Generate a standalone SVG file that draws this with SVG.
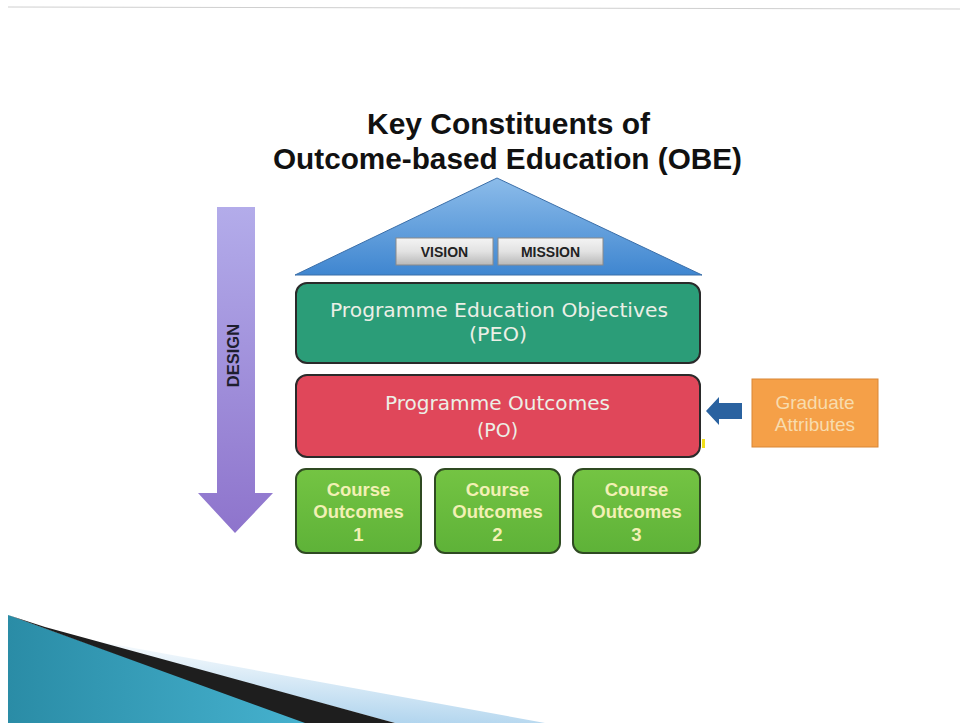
<svg xmlns="http://www.w3.org/2000/svg" width="960" height="723" viewBox="0 0 960 723">
<defs>
<linearGradient id="roof" x1="0" y1="0" x2="0" y2="1">
<stop offset="0" stop-color="#8cbcea"/><stop offset="1" stop-color="#3f86d0"/>
</linearGradient>
<linearGradient id="tab" x1="0" y1="0" x2="0" y2="1">
<stop offset="0" stop-color="#f4f4f4"/><stop offset="0.5" stop-color="#e2e2e2"/><stop offset="1" stop-color="#b8b8b8"/>
</linearGradient>
<linearGradient id="design" x1="0" y1="0" x2="0" y2="1">
<stop offset="0" stop-color="#b3acea"/><stop offset="1" stop-color="#8e74cc"/>
</linearGradient>
<linearGradient id="course" x1="0" y1="0" x2="0" y2="1">
<stop offset="0" stop-color="#74c443"/><stop offset="1" stop-color="#5eb238"/>
</linearGradient>
<linearGradient id="teal" x1="0" y1="0" x2="1" y2="0">
<stop offset="0" stop-color="#2a8ca6"/><stop offset="1" stop-color="#46b2cf"/>
</linearGradient>
<linearGradient id="lightblue" x1="0" y1="1" x2="0.3" y2="0">
<stop offset="0" stop-color="#9fcbea"/><stop offset="1" stop-color="#ffffff"/>
</linearGradient>
<style>
.title{font-family:"Liberation Sans",Arial,sans-serif;font-weight:bold;font-size:30px;fill:#111;text-anchor:middle}
.tab{fill:url(#tab);stroke:#8a8a8a;stroke-width:1}
.tabt{font-family:"Liberation Sans",Arial,sans-serif;font-weight:bold;font-size:14px;fill:#222;text-anchor:middle}
.band{stroke:#2a2a2a;stroke-width:2}
.bandt{font-family:"DejaVu Sans",Verdana,sans-serif;font-size:19px;fill:#ecefe6;text-anchor:middle}
.course{fill:url(#course);stroke:#2f4a22;stroke-width:2}
.courset{font-family:"Liberation Sans",Arial,sans-serif;font-weight:bold;font-size:18.5px;fill:#f2f0b4;text-anchor:middle}
.grad{font-family:"Liberation Sans",Arial,sans-serif;font-size:19px;fill:#f8dcae;text-anchor:middle}
</style>
</defs>
<rect width="960" height="723" fill="#ffffff"/>
<line x1="8" y1="7" x2="960" y2="9" stroke="#cfcfcf" stroke-width="1"/>

<!-- bottom swoosh -->
<g id="swoosh">
<polygon points="90,640 545,723 395,723" fill="url(#lightblue)"/>
<polygon points="8,615 310,723 8,723" fill="url(#teal)"/>
<polygon points="8,615 45,627 395,723 305,723" fill="#1e1e1e"/>
</g>

<g id="title">
<text class="title" x="508.5" y="134" textLength="283" lengthAdjust="spacingAndGlyphs">Key Constituents of</text>
<text class="title" x="507.5" y="169" textLength="469" lengthAdjust="spacingAndGlyphs">Outcome-based Education (OBE)</text>
</g>

<g id="design-arrow">
<polygon points="217,207 255,207 255,493 273,493 235,533 198,493 217,493" fill="url(#design)"/>
<text x="238.5" y="355.5" transform="rotate(-90 238.5 355.5)" font-family="'Liberation Sans',Arial,sans-serif" font-weight="bold" font-size="16.5" fill="#1e1e2e" text-anchor="middle">DESIGN</text>
</g>

<g id="roof">
<polygon points="497,178 702,275 295,275" fill="url(#roof)" stroke="#3a6ea8" stroke-width="1"/>
</g>
<g id="vision">
<rect class="tab" x="396" y="238" width="97" height="27"/>
<text class="tabt" x="444.5" y="257">VISION</text>
</g>
<g id="mission">
<rect class="tab" x="498" y="238" width="105" height="27"/>
<text class="tabt" x="550.5" y="257">MISSION</text>
</g>

<g id="peo">
<rect class="band" x="296" y="283" width="404" height="80" rx="11" fill="#2b9d78"/>
<text class="bandt" x="499" y="317" textLength="338" lengthAdjust="spacingAndGlyphs">Programme Education Objectives</text>
<text class="bandt" x="498" y="341" textLength="58" lengthAdjust="spacingAndGlyphs">(PEO)</text>
</g>

<g id="po">
<rect class="band" x="296" y="375" width="404" height="82" rx="11" fill="#e0475a"/>
<text class="bandt" x="497.5" y="410" textLength="225" lengthAdjust="spacingAndGlyphs">Programme Outcomes</text>
<text class="bandt" x="497.5" y="437">(PO)</text>
</g>
<rect x="702" y="439" width="3" height="9" fill="#f2e01a"/>

<g id="co1">
<rect class="course" x="296" y="469" width="125" height="84" rx="10"/>
<text class="courset" x="358.5" y="496">Course</text>
<text class="courset" x="358.5" y="518">Outcomes</text>
<text class="courset" x="358.5" y="541">1</text>
</g>
<g id="co2">
<rect class="course" x="435" y="469" width="125" height="84" rx="10"/>
<text class="courset" x="497.5" y="496">Course</text>
<text class="courset" x="497.5" y="518">Outcomes</text>
<text class="courset" x="497.5" y="541">2</text>
</g>
<g id="co3">
<rect class="course" x="573" y="469" width="127" height="84" rx="10"/>
<text class="courset" x="636.5" y="496">Course</text>
<text class="courset" x="636.5" y="518">Outcomes</text>
<text class="courset" x="636.5" y="541">3</text>
</g>

<g id="graduate-attributes">
<rect x="752" y="379" width="126" height="68" fill="#f5a048" stroke="#d98634" stroke-width="1"/>
<text class="grad" x="815" y="409">Graduate</text>
<text class="grad" x="815" y="431">Attributes</text>
</g>

<g id="connectors">
<polygon points="706,411 719,397 719,403 742,403 742,419 719,419 719,425" fill="#2a62a0"/>
</g>
</svg>
